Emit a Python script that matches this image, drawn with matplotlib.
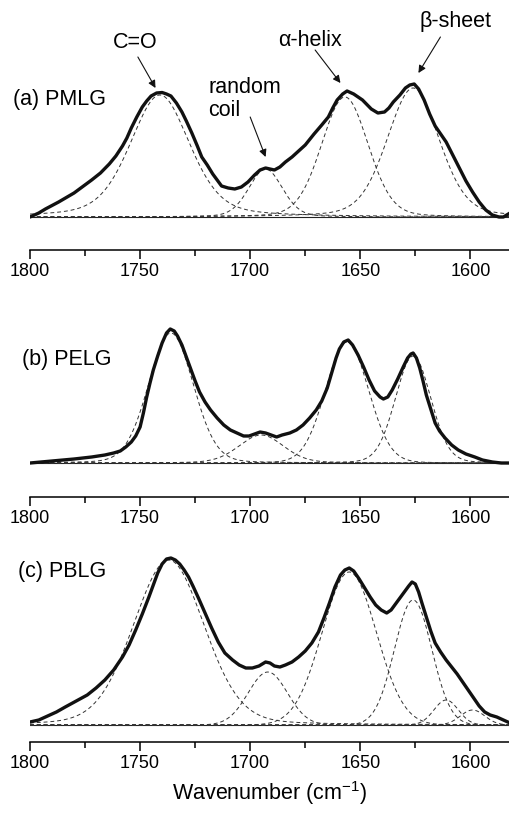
import numpy as np
from matplotlib import pyplot as plt

plt.rcParams['font.family'] = ['Liberation Sans', 'DejaVu Sans']
plt.rcParams['mathtext.default'] = 'regular'

# ********* 全谱（读图取点）*********
# (a) PMLG
wn_a = [1800, 1796, 1793, 1787, 1780, 1772, 1768, 1764, 1761, 1758, 1756, 1754, 1751.5, 1749,
        1747, 1745, 1742.5, 1740, 1738, 1736, 1733.5, 1731, 1729, 1726.5, 1724, 1722, 1719.5,
        1717, 1715, 1713, 1710, 1707, 1704, 1701, 1698, 1695.5, 1693, 1691, 1689, 1686.5,
        1684, 1681, 1678, 1675, 1671, 1667.5, 1664.5, 1662.5, 1660.5, 1658, 1656, 1653, 1649,
        1645, 1642, 1639, 1637, 1635, 1632, 1629.5, 1627.5, 1625.5, 1623.5, 1621, 1618.5,
        1616, 1613.5, 1611, 1608, 1605, 1602, 1599, 1596, 1593, 1590, 1587, 1585, 1582]
abs_a = [0.00, 0.04, 0.08, 0.15, 0.24, 0.37, 0.44, 0.53, 0.61, 0.71, 0.79, 0.89, 1.00, 1.10,
         1.16, 1.21, 1.24, 1.245, 1.23, 1.21, 1.14, 1.05, 0.96, 0.84, 0.71, 0.60, 0.52,
         0.43, 0.37, 0.31, 0.29, 0.28, 0.30, 0.35, 0.42, 0.47, 0.49, 0.48, 0.47, 0.50,
         0.55, 0.60, 0.66, 0.72, 0.83, 0.92, 1.00, 1.09, 1.17, 1.23, 1.26, 1.23, 1.17,
         1.08, 1.04, 1.05, 1.09, 1.15, 1.22, 1.29, 1.32, 1.33, 1.28, 1.17, 1.03,
         0.91, 0.83, 0.75, 0.62, 0.49, 0.36, 0.25, 0.15, 0.07, 0.02, 0.00, 0.00, 0.04]
# (b) PELG
wn_b = [1800, 1790, 1780, 1772, 1766, 1762, 1759, 1756.5, 1754, 1752, 1750, 1748.5, 1747,
        1745.5, 1744, 1742, 1740, 1738, 1736.3, 1734.5, 1733, 1731, 1729, 1727, 1725, 1723,
        1720.5, 1718, 1715, 1712, 1709, 1706, 1703, 1700.5, 1698, 1695.5, 1693, 1690.5, 1688,
        1685.5, 1682, 1679, 1676, 1673, 1670, 1667.5, 1665, 1663, 1661, 1659.5, 1657.5,
        1655.5, 1653.5, 1651, 1648.5, 1646, 1643.5, 1641, 1639.5, 1637.5, 1635.5, 1633,
        1630.5, 1628.5, 1627, 1626, 1624.5, 1623, 1621.5, 1620, 1618, 1616, 1614, 1611.5,
        1608.5, 1605.5, 1602, 1598, 1594.5, 1590, 1586, 1582]
abs_b = [0.00, 0.02, 0.04, 0.06, 0.08, 0.10, 0.12, 0.16, 0.21, 0.27, 0.36, 0.50, 0.66,
         0.80, 0.93, 1.07, 1.20, 1.30, 1.34, 1.32, 1.27, 1.18, 1.06, 0.94, 0.82, 0.71,
         0.61, 0.53, 0.45, 0.38, 0.33, 0.30, 0.27, 0.27, 0.29, 0.31, 0.30, 0.28, 0.26,
         0.28, 0.30, 0.33, 0.38, 0.45, 0.53, 0.62, 0.75, 0.90, 1.05, 1.14, 1.21,
         1.23, 1.18, 1.08, 0.96, 0.83, 0.72, 0.66, 0.64, 0.66, 0.73, 0.84,
         0.96, 1.05, 1.09, 1.10, 1.05, 0.95, 0.82, 0.68, 0.54, 0.40, 0.32, 0.25,
         0.18, 0.13, 0.09, 0.06, 0.03, 0.01, 0.00, 0.00]
# (c) PBLG
wn_c = [1800, 1796, 1793, 1788, 1784, 1779, 1774, 1770, 1766, 1762, 1758, 1755, 1752, 1749,
        1746, 1744, 1742, 1740, 1738, 1736, 1734, 1732, 1730, 1728, 1726, 1723.5, 1720.5,
        1717.5, 1714.5, 1711.5, 1708, 1705, 1702, 1699, 1696, 1693, 1691, 1689, 1686.5, 1684,
        1681, 1678, 1675, 1672, 1669, 1666.5, 1664, 1661.5, 1659, 1657, 1655, 1653, 1650.5,
        1648, 1645.5, 1643, 1640.5, 1638, 1636, 1634, 1632, 1630, 1628, 1626.5, 1625, 1623.5,
        1622, 1620, 1618, 1616, 1613.5, 1611, 1608.5, 1606, 1603.5, 1601, 1598.5, 1596,
        1593.5, 1591, 1588, 1585, 1582]
abs_c = [0.03, 0.05, 0.08, 0.13, 0.18, 0.24, 0.30, 0.37, 0.45, 0.55, 0.68, 0.80, 0.95, 1.11,
         1.28, 1.40, 1.52, 1.61, 1.66, 1.67, 1.65, 1.61, 1.55, 1.48, 1.39, 1.27, 1.12,
         0.97, 0.83, 0.72, 0.65, 0.60, 0.57, 0.57, 0.59, 0.63, 0.62, 0.59, 0.58, 0.60,
         0.63, 0.68, 0.74, 0.82, 0.93, 1.07, 1.22, 1.38, 1.50, 1.55, 1.57, 1.54, 1.46,
         1.37, 1.28, 1.20, 1.15, 1.12, 1.15, 1.21, 1.27, 1.33, 1.39, 1.43, 1.41, 1.33,
         1.22, 1.08, 0.94, 0.82, 0.73, 0.65, 0.58, 0.51, 0.43, 0.35, 0.27, 0.19,
         0.13, 0.10, 0.08, 0.05, 0.02]

# ********* 分峰拟合参数：峰位 / 峰高 / 半高宽 / 洛伦兹比例 *********
center_a = [1741, 1693, 1657, 1626]
height_a = [1.22, 0.48, 1.20, 1.29]
fwhm_a = [32, 18, 25, 28]
eta_a = [0.35, 0.2, 0.15, 0.25]

center_b = [1736, 1695, 1656, 1626]
height_b = [1.30, 0.28, 1.21, 1.07]
fwhm_b = [24, 24, 23, 19]
eta_b = [0.1, 0.2, 0.05, 0.1]

center_c = [1737, 1692, 1655, 1626, 1611, 1599]
height_c = [1.65, 0.53, 1.53, 1.25, 0.25, 0.15]
fwhm_c = [38, 21, 29, 20, 13, 13]
eta_c = [0.15, 0, 0, 0, 0, 0]

labels = ['(a) PMLG', '(b) PELG', '(c) PBLG']


def band(x, c, h, w, eta):
    # pseudo-Voigt 峰形
    d = (x - c) / w
    return h * (eta / (1 + 4 * d ** 2) + (1 - eta) * np.exp(-4 * np.log(2) * d ** 2))


fig = plt.figure(figsize=(5.1, 8.14), dpi=100)
W, H = 510.0, 814.0
# 每个子图: 轴线像素位置, 顶部像素位置, y下限, y上限
panels = [
    (250, 0, -0.33, 2.17, wn_a, abs_a, center_a, height_a, fwhm_a, eta_a),
    (497, 280, -0.34, 1.83, wn_b, abs_b, center_b, height_b, fwhm_b, eta_b),
    (742, 530, -0.17, 1.95, wn_c, abs_c, center_c, height_c, fwhm_c, eta_c),
]
label_pos = [(1807.7, 1.17), (1803.6, 1.03), (1805.5, 1.53)]

xs = np.linspace(1800, 1582, 600)
axes = []
for i, (yb, yt, y0, y1, wn, ab, cs, hs, ws, es) in enumerate(panels):
    ax = fig.add_axes([30 / W, 1 - yb / H, 480 / W, (yb - yt) / H])
    axes.append(ax)
    ax.plot([1800, 1582], [0, 0], color='#222222', linewidth=0.8)
    for c, h, w, e in zip(cs, hs, ws, es):
        ax.plot(xs, band(xs, c, h, w, e), color='#333333', linewidth=0.7, dashes=(4, 3))
    ax.plot(wn, ab, color='#111111', linewidth=2.4, solid_joinstyle='round', solid_capstyle='round')
    ax.set_xlim(1800, 1582)
    ax.set_ylim(y0, y1)
    for s in ['top', 'left', 'right']:
        ax.spines[s].set_visible(False)
    ax.spines['bottom'].set_linewidth(1.1)
    ax.set_yticks([])
    ax.set_xticks([1800, 1750, 1700, 1650, 1600])
    ax.set_xticks([1775, 1725, 1675, 1625], minor=True)
    ax.tick_params(axis='x', which='major', length=6.5, width=1.1, labelsize=13, pad=3)
    ax.tick_params(axis='x', which='minor', length=4.5, width=1.1)
    ax.patch.set_visible(False)
    ax.text(label_pos[i][0], label_pos[i][1], labels[i], fontsize=15.5, ha='left', va='center',
            clip_on=False)

axes[2].set_xlabel('Wavenumber (cm$^{-1}$)', fontsize=15.5, labelpad=5)

# 标注
ax = axes[0]
arrow = dict(arrowstyle='-|>', color='#111111', linewidth=0.8, mutation_scale=11, shrinkA=0, shrinkB=0)
ax.text(1752.3, 1.74, 'C=O', fontsize=15.5, ha='center', va='center')
ax.annotate('', xy=(1743, 1.29), xytext=(1751, 1.60), arrowprops=arrow)
ax.text(1719, 1.18, 'random\ncoil', fontsize=15.5, ha='left', va='center', linespacing=1.15)
ax.annotate('', xy=(1693, 0.60), xytext=(1700, 1.00), arrowprops=arrow)
ax.text(1672.7, 1.77, 'α-helix', fontsize=15.5, ha='center', va='center')
ax.annotate('', xy=(1659, 1.34), xytext=(1670.5, 1.67), arrowprops=arrow)
ax.text(1606.8, 1.95, 'β-sheet', fontsize=15.5, ha='center', va='center')
ax.annotate('', xy=(1623.6, 1.44), xytext=(1613.6, 1.80), arrowprops=arrow)

plt.savefig('out.png', dpi=100)
